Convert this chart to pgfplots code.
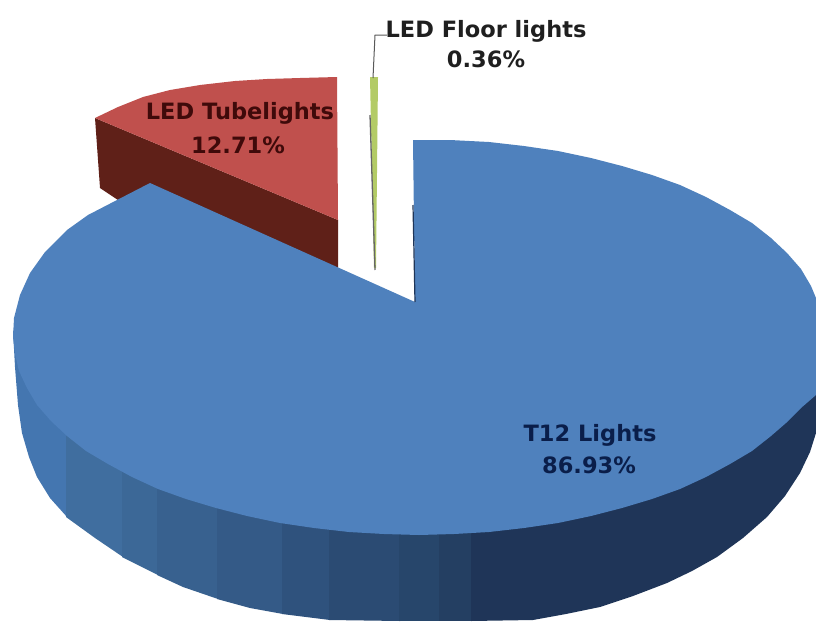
\documentclass[border=0pt]{standalone}
\usepackage{pgfplots}
\pgfplotsset{compat=1.18}
\usepackage{fontspec}
\setmainfont{DejaVu Sans}
\definecolor{bluetop}{HTML}{4F81BD}
\definecolor{redtop}{HTML}{C0504D}
\definecolor{redside}{HTML}{5F2018}
\definecolor{greentop}{HTML}{B3CB66}
\definecolor{s1}{HTML}{4476B0}
\definecolor{s2}{HTML}{406E9F}
\definecolor{s3}{HTML}{3C6897}
\definecolor{s4}{HTML}{38618F}
\definecolor{s5}{HTML}{345A87}
\definecolor{s6}{HTML}{2F527D}
\definecolor{s7}{HTML}{2B4B73}
\definecolor{s8}{HTML}{27466B}
\definecolor{s9}{HTML}{243F62}
\definecolor{s10}{HTML}{1F3558}
\definecolor{tred}{HTML}{3F0A0A}
\definecolor{tblue}{HTML}{0A1E4A}
\begin{document}
\begin{tikzpicture}
\begin{axis}[
  scale only axis, width=816pt, height=621pt,
  xmin=0, xmax=816, ymin=0, ymax=621, y dir=reverse,
  hide axis, clip=true,
  every axis plot/.append style={draw=none, mark=none, line width=0pt},
]
% frame of the picture
\addplot[draw=none] coordinates {(0,0)(816,621)};
% side of T12
\addplot[fill=s1] coordinates {(13,330)(67,420)(67,517)(50,498)(37,477)(29,457)(22,433)(18,405)(15,367)} -- cycle;
\addplot[fill=s2] coordinates {(66,420)(123,460)(123,557)(95,538)(66,517)} -- cycle;
\addplot[fill=s3] coordinates {(122,460)(158,480)(158,575)(122,557)} -- cycle;
\addplot[fill=s4] coordinates {(157,480)(218,500)(218,599)(183,587)(157,575)} -- cycle;
\addplot[fill=s5] coordinates {(217,500)(283,515)(283,614)(250,608)(217,599)} -- cycle;
\addplot[fill=s6] coordinates {(282,515)(330,520)(330,620)(290,615)(282,614)} -- cycle;
\addplot[fill=s7] coordinates {(329,520)(400,525)(400,621)(329,620)} -- cycle;
\addplot[fill=s8] coordinates {(399,525)(440,525)(440,621)(399,621)} -- cycle;
\addplot[fill=s9] coordinates {(439,525)(472,525)(472,621)(439,621)} -- cycle;
\addplot[fill=s10] coordinates {(471,525)(622,495)(730,450)(816,385)(816,433)(810,452)(800,473)(785,496)(767,517)(743,538)(717,557)(692,571)(667,583)(633,596)(600,607)(566,614)(533,620)(471,621)} -- cycle;
% LED Tubelights
\addplot[fill=redside] coordinates {(95,118)(338,220)(338,270)(150,190)(118,200)(100,188)} -- cycle;
\addplot[fill=redtop] coordinates {(95,118)(118,107)(143,97)(170,90)(200,85)(235,81)(267,79)(300,78)(337,77)(338,220)} -- cycle;
% LED Floor lights
\addplot[fill=greentop] coordinates {(370,77)(378,77)(376,268)(374,268)} -- cycle;
\addplot[draw=black!60, line width=1.3pt] coordinates {(370,115)(375,270)};
\addplot[draw=black!65, line width=1pt] coordinates {(387,35)(375,35)(373,78)};
% T12 top
\addplot[fill=bluetop] coordinates {(415,302)(413,140)(450,140)(489,142)(524,146)(558,151)(591,158)(622,166)(652,175)(680,185)(706,197)(730,210)(752,223)(771,238)(787,253)(801,269)(811,286)(816,298)(816,395)(801,408)(786,423)(771,436)(752,451)(730,464)(706,477)(680,489)(652,499)(622,508)(591,516)(558,523)(524,528)(489,532)(454,534)(419,535)(384,534)(349,532)(314,528)(280,523)(247,516)(216,508)(186,499)(158,489)(132,477)(108,464)(86,451)(67,436)(51,421)(37,405)(27,388)(19,371)(15,354)(13,337)(14,318)(20,295)(30,273)(45,252)(67,230)(88,215)(117,200)(150,183)} -- cycle;
\addplot[draw=s10, line width=1.2pt] coordinates {(413,205)(415,302)};
\node[font=\bfseries\fontsize{22.5}{26}\selectfont, text=black!88] at (axis cs:486,31) {LED Floor lights};
\node[font=\bfseries\fontsize{22.5}{26}\selectfont, text=black!88] at (axis cs:486,59) {0.36\%};
\node[font=\bfseries\fontsize{22.5}{26}\selectfont, text=tred] at (axis cs:240,113) {LED Tubelights};
\node[font=\bfseries\fontsize{22.5}{26}\selectfont, text=tred] at (axis cs:238,145) {12.71\%};
\node[font=\bfseries\fontsize{22.5}{26}\selectfont, text=tblue] at (axis cs:590,435) {T12 Lights};
\node[font=\bfseries\fontsize{22.5}{26}\selectfont, text=tblue] at (axis cs:589,465) {86.93\%};
\end{axis}
\end{tikzpicture}
\end{document}
